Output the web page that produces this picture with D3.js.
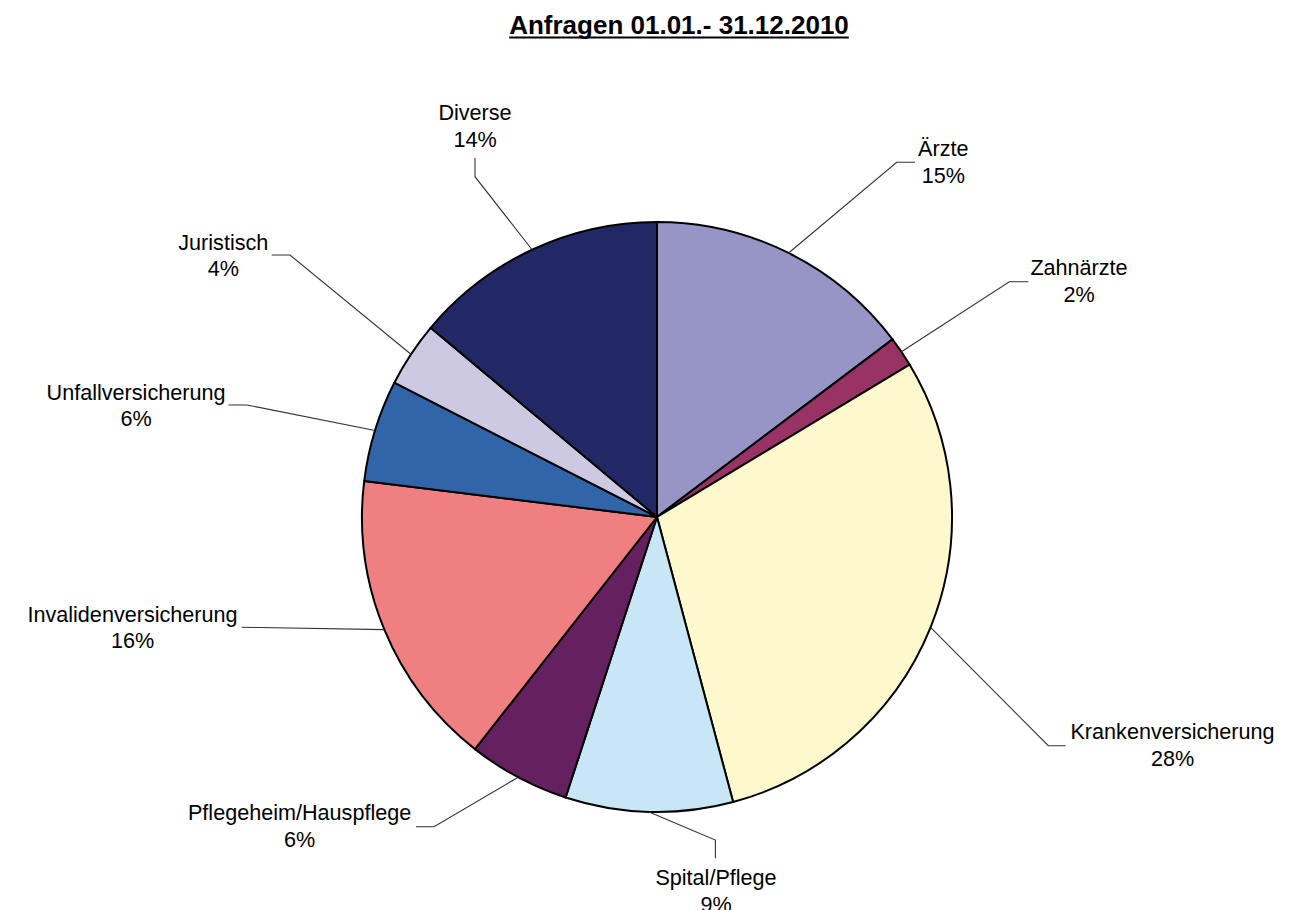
<!DOCTYPE html>
<html>
<head>
<meta charset="utf-8">
<script src="https://cdn.jsdelivr.net/npm/d3@7"></script>
<style>
  html, body { margin: 0; padding: 0; background: #ffffff; }
  svg { display: block; }
  text { font-family: "Liberation Sans", Arial, sans-serif; fill: #000; }
</style>
</head>
<body>
<svg id="chart" width="1310" height="910"></svg>
<script>
// ---- Data ----
const title = "Anfragen 01.01.- 31.12.2010";
const categories = ["Ärzte", "Zahnärzte", "Krankenversicherung", "Spital/Pflege",
  "Pflegeheim/Hauspflege", "Invalidenversicherung", "Unfallversicherung", "Juristisch", "Diverse"];
const shares = [14.72, 1.64, 29.49, 9.17, 5.57, 16.36, 5.58, 3.56, 13.92];
const percentLabels = ["15%", "2%", "28%", "9%", "6%", "16%", "6%", "4%", "14%"];

// ---- Styles / layout ----
const colors = ["#9795C6", "#993366", "#FEF8CD", "#C9E6F7", "#64205F",
  "#EF7F80", "#3165A9", "#CDC9E3", "#212865"];
const cx = 657, cy = 517, radius = 295;
const fontSize = 21.6, lineGap = 26.6;
// label anchor (center x, first baseline), leader elbow and leader end
const labelLayout = [
  { lx: 943.3, ly: 156,   elbow: [896.7, 162.3], end: [915, 162.3] },
  { lx: 1079,  ly: 275,   elbow: [1009.3, 281.7], end: [1028.3, 281.7] },
  { lx: 1172.5,ly: 739.3, elbow: [1048.3, 745.7], end: [1065.7, 745.7] },
  { lx: 716,   ly: 885,   elbow: [715.4, 840], end: [715.4, 858.3] },
  { lx: 299.6, ly: 820,   elbow: [434, 826.7], end: [416, 826.7] },
  { lx: 132.5, ly: 621.7, elbow: [260, 627.5], end: [241.7, 627.3] },
  { lx: 136,   ly: 399.5, elbow: [247, 405], end: [228.5, 405] },
  { lx: 223.3, ly: 249.5, elbow: [290, 255], end: [271.7, 255] },
  { lx: 475,   ly: 120,   elbow: [475, 176.7], end: [475, 158] }
];

const svg = d3.select("#chart");

// Title
const t = svg.append("text")
  .attr("x", 679).attr("y", 34.3)
  .attr("text-anchor", "middle")
  .style("font-size", "26px")
  .style("font-weight", "bold")
  .text(title);
const tb = t.node().getBBox();
svg.append("line")
  .attr("x1", tb.x).attr("x2", tb.x + tb.width)
  .attr("y1", 37.6).attr("y2", 37.6)
  .attr("stroke", "#000").attr("stroke-width", 2);

// Pie
const pie = d3.pie().sort(null).value(d => d).startAngle(0).endAngle(2 * Math.PI);
const arcs = pie(shares);
const arc = d3.arc().innerRadius(0).outerRadius(radius);
const g = svg.append("g").attr("transform", `translate(${cx},${cy})`);

g.selectAll("path.slice")
  .data(arcs)
  .join("path")
  .attr("class", "slice")
  .attr("d", arc)
  .attr("fill", (d, i) => colors[i])
  .attr("stroke", "#000")
  .attr("stroke-width", 2)
  .attr("stroke-linejoin", "round");

// Leader lines
const lineGen = d3.line();
svg.selectAll("path.leader")
  .data(arcs)
  .join("path")
  .attr("class", "leader")
  .attr("d", (d, i) => {
    const a = (d.startAngle + d.endAngle) / 2;
    const p0 = [cx + radius * Math.sin(a), cy - radius * Math.cos(a)];
    const L = labelLayout[i];
    return lineGen([p0, L.elbow, L.end]);
  })
  .attr("fill", "none")
  .attr("stroke", "#333")
  .attr("stroke-width", 1.1);

// Labels
const lab = svg.selectAll("text.lab")
  .data(arcs)
  .join("text")
  .attr("class", "lab")
  .attr("text-anchor", "middle")
  .style("font-size", fontSize + "px");
lab.append("tspan")
  .attr("x", (d, i) => labelLayout[i].lx)
  .attr("y", (d, i) => labelLayout[i].ly)
  .text((d, i) => categories[i]);
lab.append("tspan")
  .attr("x", (d, i) => labelLayout[i].lx)
  .attr("y", (d, i) => labelLayout[i].ly + lineGap)
  .text((d, i) => percentLabels[i]);
</script>
</body>
</html>
